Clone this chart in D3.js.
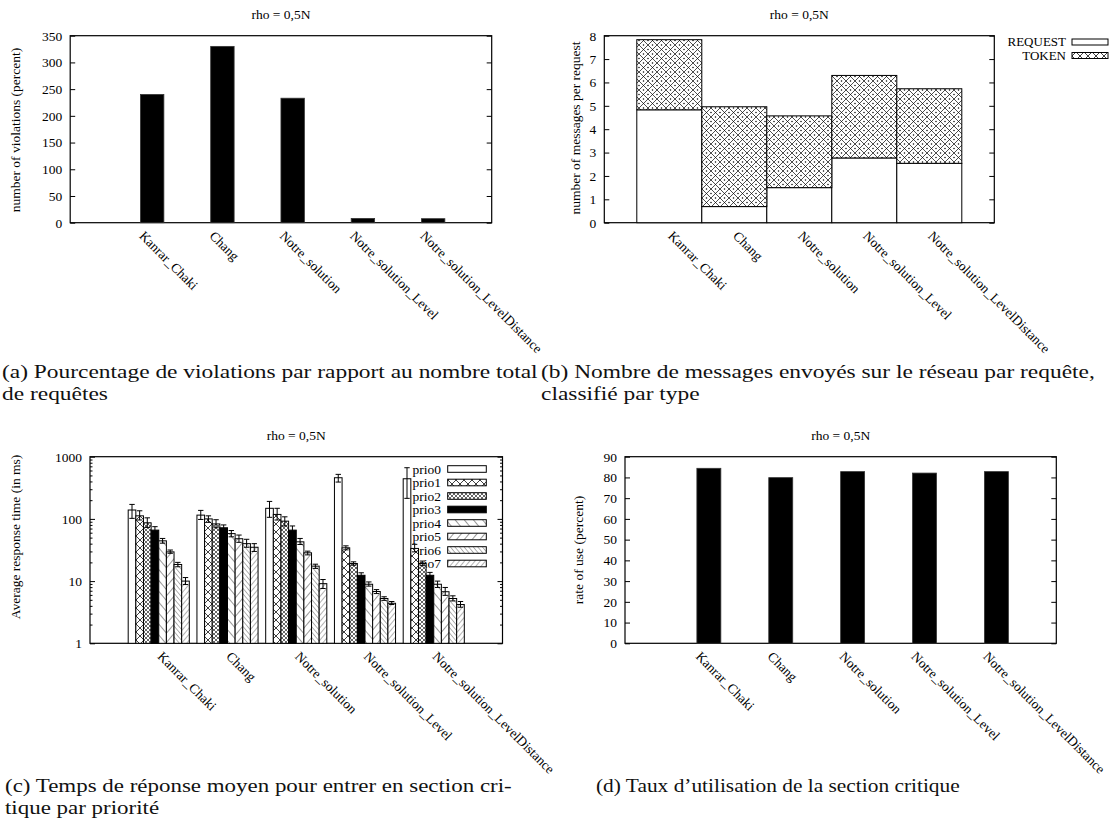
<!DOCTYPE html>
<html><head><meta charset="utf-8">
<script src="https://cdn.jsdelivr.net/npm/d3@7"></script>
<style>
body{margin:0;background:#fff;}
svg{display:block;}
text{font-family:"Liberation Serif","Times New Roman",serif;}
</style></head><body>
<svg id="chart" width="1115" height="836"></svg>
<script>
// ---------------- data ----------------
const categories = ["Kanrar_Chaki","Chang","Notre_solution","Notre_solution_Level","Notre_solution_LevelDistance"];
const plotTitle = "rho = 0,5N";

// (a) violations (percent)
const violations = [240, 330, 233, 8, 7.5];
const violationTicks = [0,50,100,150,200,250,300,350];

// (b) messages per request, stacked
const msgTypes = ["REQUEST","TOKEN"];
const requestMsgs = [4.83, 0.69, 1.50, 2.77, 2.54];
const tokenMsgs   = [3.00, 4.27, 3.07, 3.53, 3.19];
const msgTicks = [0,1,2,3,4,5,6,7,8];

// (c) average response time per priority (ms), with error bars
const priorities = ["prio0","prio1","prio2","prio3","prio4","prio5","prio6","prio7"];
const respKanrar    = [139, 112, 86.5, 66, 44.4, 29.5, 18.5, 10];
const respKanrarLo  = [102, 96, 73, 58, 40.7, 28, 17, 8.8];
const respKanrarHi  = [171, 135, 104, 75, 48.5, 31.6, 20, 11.4];
const respChang     = [115, 100, 83, 72, 58, 48, 40, 35];
const respChangLo   = [98, 88, 72, 64, 51.5, 42, 35, 30];
const respChangHi   = [137, 112, 97, 80, 65, 55, 47, 40];
const respNotre     = [148, 118, 92, 66, 42.8, 28.5, 17.4, 9.1];
const respNotreLo   = [106, 96, 77, 58, 38.8, 26.4, 16, 7.6];
const respNotreHi   = [191, 148, 108, 77, 48.5, 30.3, 18.7, 10.6];
const respLevel     = [459, 34.3, 19.2, 12.4, 8.9, 6.8, 5.25, 4.4];
const respLevelLo   = [391, 31.8, 18, 11.6, 8.3, 6.3, 4.9, 4.2];
const respLevelHi   = [520, 36.9, 20.4, 13.6, 9.7, 7.3, 5.6, 4.7];
const respLevelDist   = [442, 33.5, 19.2, 12.4, 8.9, 6.75, 5.25, 4.2];
const respLevelDistLo = [214, 29.5, 17.7, 11.4, 7.9, 5.9, 4.8, 3.8];
const respLevelDistHi = [665, 39, 21, 13.8, 10, 7.9, 5.8, 4.7];
const respTicks = [1,10,100,1000];

// (d) rate of use (percent)
const usage = [84.4, 79.9, 82.8, 82.1, 82.8];
const usageTicks = [0,10,20,30,40,50,60,70,80,90];

const captions = [
  {id:"a", lines:["(a) Pourcentage de violations par rapport au nombre total","de requêtes"]},
  {id:"b", lines:["(b) Nombre de messages envoyés sur le réseau par requête,","classifié par type"]},
  {id:"c", lines:["(c) Temps de réponse moyen pour entrer en section cri-","tique par priorité"]},
  {id:"d", lines:["(d) Taux d’utilisation de la section critique"]}
];

// ---------------- drawing ----------------
const svg = d3.select("#chart");
const FONT = "Liberation Serif";
const FS = 13.5;

// patterns
const defs = svg.append("defs");
function hatch(id, period, angle, sw){
  const p = defs.append("pattern").attr("id",id).attr("patternUnits","userSpaceOnUse")
    .attr("width",period).attr("height",period).attr("patternTransform",`rotate(${angle})`);
  p.append("rect").attr("width",period).attr("height",period).attr("fill","#fff");
  p.append("line").attr("x1",0).attr("y1",0).attr("x2",0).attr("y2",period)
    .attr("stroke","#000").attr("stroke-width",sw);
}
function cross(id, period, sw, dots){
  const p = defs.append("pattern").attr("id",id).attr("patternUnits","userSpaceOnUse")
    .attr("width",period).attr("height",period);
  p.append("rect").attr("width",period).attr("height",period).attr("fill","#fff");
  p.append("path").attr("d",`M0,0L${period},${period}M${period},0L0,${period}`)
    .attr("stroke","#000").attr("stroke-width",sw).attr("fill","none");
  if(dots){
    [[period/2,0],[period/2,period],[0,period/2],[period,period/2]].forEach(([cx,cy])=>
      p.append("circle").attr("cx",cx).attr("cy",cy).attr("r",0.75).attr("fill","#000"));
  }
}
cross("pat1", 8, 0.75, false);
cross("patTok", 9, 0.7, true);
cross("pat2", 4, 0.6, false);
hatch("pat4", 7, -40, 0.8);
hatch("pat5", 6, 40, 0.8);
hatch("pat6", 3.5, -40, 0.6);
hatch("pat7", 4, 40, 0.6);
const prioFill = ["#fff","url(#pat1)","url(#pat2)","#000","url(#pat4)","url(#pat5)","url(#pat6)","url(#pat7)"];

function styleAxis(g){
  g.attr("font-family",FONT).attr("font-size",FS);
  g.select(".domain").remove();
  g.selectAll("line").attr("stroke","#000");
}

function frame(x, y, title){
  const [x0,x1] = x.range();
  const [y0,y1] = y.range(); // y0 bottom, y1 top
  const g = svg.append("g");
  g.append("rect").attr("x",x0).attr("y",y1).attr("width",x1-x0).attr("height",y0-y1)
    .attr("fill","none").attr("stroke","#000").attr("stroke-width",1.2);
  g.append("text").attr("x",(x0+x1)/2).attr("y",y1-16.5).attr("text-anchor","middle")
    .attr("font-size",FS).text(title);
  return g;
}

function yAxes(x, y, ticks, fmt, minor){
  const [x0,x1] = x.range();
  svg.append("g").attr("transform",`translate(${x0},0)`)
    .call(d3.axisLeft(y).tickValues(ticks).tickFormat(fmt).tickSize(-5).tickPadding(8)).call(styleAxis);
  svg.append("g").attr("transform",`translate(${x1},0)`)
    .call(d3.axisRight(y).tickValues(ticks).tickFormat("").tickSize(-5)).call(styleAxis);
  if(minor){
    svg.append("g").attr("transform",`translate(${x0},0)`)
      .call(d3.axisLeft(y).tickValues(minor).tickFormat("").tickSize(-2.5)).call(styleAxis);
    svg.append("g").attr("transform",`translate(${x1},0)`)
      .call(d3.axisRight(y).tickValues(minor).tickFormat("").tickSize(-2.5)).call(styleAxis);
  }
}

function xLabels(x, y){
  const yb = y.range()[0];
  svg.append("g").attr("transform",`translate(0,${yb})`)
    .call(d3.axisBottom(x).tickValues(d3.range(categories.length)).tickFormat(i=>categories[i]).tickSize(0))
    .call(styleAxis)
    .selectAll("text").attr("y",0).attr("dy",0)
    .attr("transform","translate(-2.5,14) rotate(45)").attr("text-anchor","start");
}

function yLabel(text, cx, cy){
  svg.append("text").attr("transform",`translate(${cx},${cy}) rotate(-90)`)
    .attr("text-anchor","middle").attr("dy","0.35em").attr("font-size",FS).text(text);
}

// ----- (a) -----
const xA = d3.scaleLinear().domain([-1,5]).range([70.2,491.7]);
const yA = d3.scaleLinear().domain([0,350]).range([222.7,35.7]);
frame(xA, yA, plotTitle);
svg.append("g").selectAll("rect").data(violations).join("rect")
  .attr("x",(d,i)=>xA(i)).attr("width",xA(1/3)-xA(0))
  .attr("y",d=>yA(d)).attr("height",d=>yA(0)-yA(d))
  .attr("fill","#000").attr("stroke","#333").attr("stroke-width",0.8);
yAxes(xA, yA, violationTicks, d3.format("d"));
xLabels(xA, yA);
yLabel("number of violations (percent)", 15.5, 130);

// ----- (b) -----
const xB = d3.scaleLinear().domain([-1,5]).range([604.3,994.3]);
const yB = d3.scaleLinear().domain([0,8]).range([222.7,35.7]);
frame(xB, yB, plotTitle);
const stacked = categories.map((c,i)=>({i, req:requestMsgs[i], tok:tokenMsgs[i]}));
const gB = svg.append("g");
gB.selectAll("rect.req").data(stacked).join("rect").attr("class","req")
  .attr("x",d=>xB(d.i-0.5)).attr("width",xB(1)-xB(0))
  .attr("y",d=>yB(d.req)).attr("height",d=>yB(0)-yB(d.req))
  .attr("fill","#fff").attr("stroke","#000").attr("stroke-width",1);
gB.selectAll("rect.tok").data(stacked).join("rect").attr("class","tok")
  .attr("x",d=>xB(d.i-0.5)).attr("width",xB(1)-xB(0))
  .attr("y",d=>yB(d.req+d.tok)).attr("height",d=>yB(d.req)-yB(d.req+d.tok))
  .attr("fill","url(#patTok)").attr("stroke","#000").attr("stroke-width",1);
yAxes(xB, yB, msgTicks, d3.format("d"));
xLabels(xB, yB);
yLabel("number of messages per request", 575, 128);
// legend (b)
const legB = svg.append("g").attr("font-size",13);
msgTypes.forEach((t,k)=>{
  const cy = 42 + k*13.5;
  legB.append("text").attr("x",1066).attr("y",cy).attr("dy","0.33em").attr("text-anchor","end").text(t);
  legB.append("rect").attr("x",1072).attr("y",cy-3).attr("width",36).attr("height",6)
    .attr("fill",k===0?"#fff":"url(#pat1)").attr("stroke","#000").attr("stroke-width",1);
});

// ----- (c) -----
const xC = d3.scaleLinear().domain([-1,5]).range([90,502.5]);
const yC = d3.scaleLog().domain([1,1000]).range([643.3,456.7]);
frame(xC, yC, plotTitle);
// legend first (bars overlap it)
const legC = svg.append("g").attr("font-size",FS);
priorities.forEach((p,k)=>{
  const cy = 469 + k*13.5;
  legC.append("text").attr("x",441).attr("y",cy).attr("dy","0.35em").attr("text-anchor","end").text(p);
  legC.append("rect").attr("x",447.7).attr("y",cy-3.3).attr("width",38.6).attr("height",6.6)
    .attr("fill",prioFill[k]).attr("stroke","#000").attr("stroke-width",1);
});
const respMeans = [respKanrar, respChang, respNotre, respLevel, respLevelDist];
const respLows  = [respKanrarLo, respChangLo, respNotreLo, respLevelLo, respLevelDistLo];
const respHighs = [respKanrarHi, respChangHi, respNotreHi, respLevelHi, respLevelDistHi];
const barsC = [];
respMeans.forEach((arr,i)=>arr.forEach((v,j)=>barsC.push({i,j,v,lo:respLows[i][j],hi:respHighs[i][j]})));
const bwC = xC(1/9)-xC(0);
const gC = svg.append("g");
gC.selectAll("rect").data(barsC).join("rect")
  .attr("x",d=>xC(d.i-4/9+d.j/9)).attr("width",bwC)
  .attr("y",d=>yC(d.v)).attr("height",d=>yC(1)-yC(d.v))
  .attr("fill",d=>prioFill[d.j]).attr("stroke","#000").attr("stroke-width",1);
const gE = svg.append("g").attr("stroke","#000").attr("stroke-width",1);
barsC.forEach(d=>{
  const cx = xC(d.i-4/9+(d.j+0.5)/9);
  gE.append("line").attr("x1",cx).attr("x2",cx).attr("y1",yC(d.lo)).attr("y2",yC(d.hi));
  gE.append("line").attr("x1",cx-2.7).attr("x2",cx+2.7).attr("y1",yC(d.lo)).attr("y2",yC(d.lo));
  gE.append("line").attr("x1",cx-2.7).attr("x2",cx+2.7).attr("y1",yC(d.hi)).attr("y2",yC(d.hi));
});
const minorC = [];
[1,10,100].forEach(dec=>{for(let m=2;m<=9;m++) minorC.push(dec*m);});
yAxes(xC, yC, respTicks, d3.format("d"), minorC);
xLabels(xC, yC);
yLabel("Average response time (in ms)", 15.5, 537);

// ----- (d) -----
const xD = d3.scaleLinear().domain([-1,5]).range([625,1056.3]);
const yD = d3.scaleLinear().domain([0,90]).range([643.3,456.7]);
frame(xD, yD, plotTitle);
svg.append("g").selectAll("rect").data(usage).join("rect")
  .attr("x",(d,i)=>xD(i)).attr("width",xD(1/3)-xD(0))
  .attr("y",d=>yD(d)).attr("height",d=>yD(0)-yD(d))
  .attr("fill","#000").attr("stroke","#333").attr("stroke-width",0.8);
yAxes(xD, yD, usageTicks, d3.format("d"));
xLabels(xD, yD);
yLabel("rate of use (percent)", 578.5, 550);

// ----- captions -----
const capPos = {a:[2,378], b:[541,378], c:[5,792], d:[596,792]};
const capWidth = {a:536, c:507, d:364}; // measured widths of first lines
const capG = svg.append("g").attr("font-size",18).attr("fill","#111");
function measure(s){
  const t = capG.append("text").attr("font-size",18).text(s);
  const w = t.node().getComputedTextLength(); t.remove(); return w;
}
const kBase = capWidth.a / measure(captions[0].lines[0]);
captions.forEach(c=>{
  const [x,y] = capPos[c.id];
  const k = capWidth[c.id] ? capWidth[c.id] / measure(c.lines[0]) : kBase;
  c.lines.forEach((ln,i)=>{
    capG.append("text").attr("transform",`translate(${x},${y+i*21.5}) scale(${k},1)`).text(ln);
  });
});
</script>
</body></html>
